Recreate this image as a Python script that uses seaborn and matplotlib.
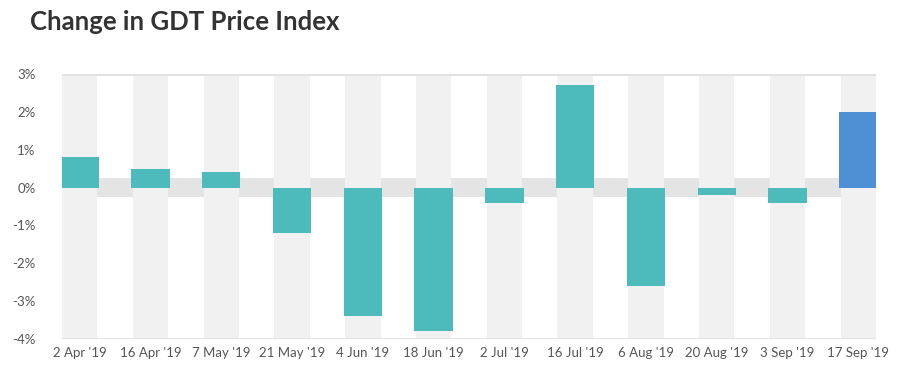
import matplotlib
matplotlib.use("Agg")
import matplotlib.pyplot as plt
import seaborn as sns
import pandas as pd

dates = ["2 Apr '19", "16 Apr '19", "7 May '19", "21 May '19", "4 Jun '19", "18 Jun '19",
         "2 Jul '19", "16 Jul '19", "6 Aug '19", "20 Aug '19", "3 Sep '19", "17 Sep '19"]
changes = [0.8, 0.5, 0.4, -1.2, -3.4, -3.8, -0.4, 2.7, -2.6, -0.2, -0.4, 2.0]
bar_colors = ["#4dbbbb"] * 11 + ["#4f8fd6"]
y_ticks = [3, 2, 1, 0, -1, -2, -3, -4]
y_labels = ["3%", "2%", "1%", "0%", "-1%", "-2%", "-3%", "-4%"]

sns.set_theme(style="white")
plt.rcParams['font.family'] = ['Lato', 'DejaVu Sans']

df = pd.DataFrame({"date": dates, "change": changes})

fig = plt.figure(figsize=(9.18, 3.77), dpi=100)
ax = fig.add_axes([62/918, 1-339/377, (876-62)/918, (339-74)/377])

ymin, ymax = -4, 3
# zero band
ax.axhspan(-0.25, 0.25, color="#e4e4e4", zorder=0, lw=0)
# alternating background columns
ax.bar(range(len(dates)), ymax - ymin, bottom=ymin, width=0.5, color="#f1f1f1", zorder=1, lw=0)

sns.barplot(data=df, x="date", y="change", hue="date", palette=bar_colors,
            legend=False, width=0.54, ax=ax, zorder=3, saturation=1, linewidth=0)

ax.axhline(ymax, color="#e2e2e2", lw=2.2, zorder=4)
ax.axhline(ymin, color="#e2e2e2", lw=2.2, zorder=4)

ax.set_xlim(-0.25, len(dates) - 0.75)
ax.set_ylim(ymin, ymax)
ax.set_yticks(y_ticks)
ax.set_yticklabels(y_labels)
ax.set_xlabel("")
ax.set_ylabel("")
for s in ax.spines.values():
    s.set_visible(False)
ax.tick_params(axis="both", length=0, labelsize=9.5, labelcolor="#555555")
ax.tick_params(axis="y", pad=19)
ax.tick_params(axis="x", pad=6)
ax.set_facecolor("white")

fig.text(30/918, 1-22/377, "Change in GDT Price Index", fontsize=18.5, fontweight="bold",
         color="#333333", va="center", ha="left")

fig.savefig("out.png", dpi=100)
